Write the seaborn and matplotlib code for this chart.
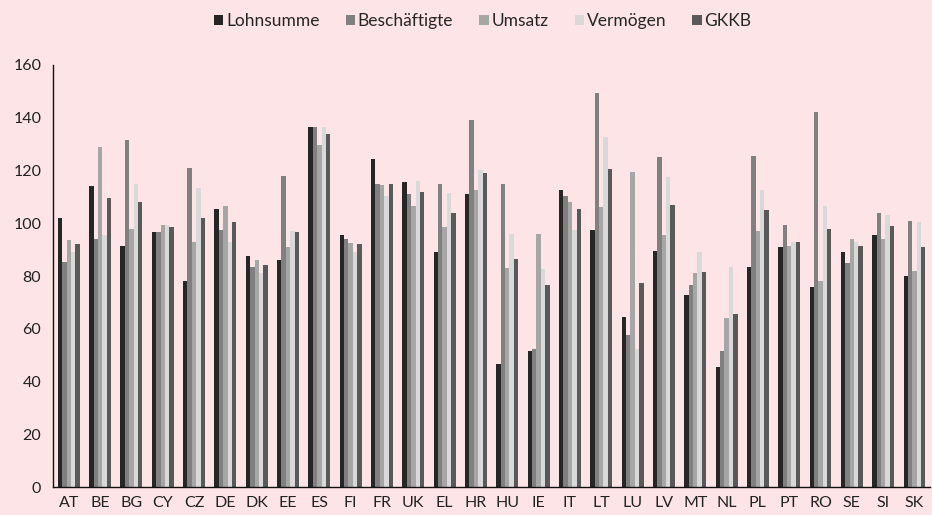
import pandas as pd
import matplotlib
matplotlib.use("Agg")
import matplotlib.pyplot as plt
import seaborn as sns
from matplotlib.patches import Patch

# Country codes and the five index series
countries = ["AT", "BE", "BG", "CY", "CZ", "DE", "DK", "EE", "ES", "FI", "FR", "UK", "EL", "HR",
             "HU", "IE", "IT", "LT", "LU", "LV", "MT", "NL", "PL", "PT", "RO", "SE", "SI", "SK"]
lohnsumme = [102, 114, 91.5, 96.5, 78, 105.5, 87.5, 86, 136.5, 95.5, 124.5, 115.5, 89, 111,
             46.5, 51.5, 112.5, 97.5, 64.5, 89.5, 73, 45.5, 83.5, 91, 76, 89, 95.5, 80]
beschaeftigte = [85.5, 94, 131.5, 96.5, 121, 97.5, 83.5, 118, 136.5, 94, 115, 111, 115, 139,
                 115, 52.5, 110.5, 149.5, 57.5, 125, 76.5, 51.5, 125.5, 99.5, 142, 85, 104, 101]
umsatz = [93.5, 129, 98, 99.5, 93, 106.5, 86, 91, 129.5, 92.5, 114.5, 106.5, 98.5, 112.5,
          83, 96, 108, 106, 119.5, 95.5, 81, 64, 97, 91.5, 78, 94, 94, 82]
vermoegen = [89, 95.5, 115, 99.5, 113.5, 93, 81, 97, 136.5, 89, 110.5, 116, 111.5, 120,
             96, 82.5, 97.5, 132.5, 52.5, 117.5, 89, 83.5, 112.5, 93, 106.5, 93, 103, 100.5]
gkkb = [92, 109.5, 108, 98.5, 102, 100.5, 84, 96.5, 134, 92, 115, 112, 104, 119,
        86.5, 76.5, 105.5, 120.5, 77.5, 107, 81.5, 65.5, 105, 93, 98, 91.5, 99, 91]

series_names = ["Lohnsumme", "Beschäftigte", "Umsatz", "Vermögen", "GKKB"]
colors = ["#262626", "#808080", "#a6a6a6", "#d9d9d9", "#595959"]

rows = []
for name, vals in zip(series_names, [lohnsumme, beschaeftigte, umsatz, vermoegen, gkkb]):
    for c, v in zip(countries, vals):
        rows.append({"Land": c, "Serie": name, "Wert": v})
df = pd.DataFrame(rows)

bg = "#fde4e6"
sns.set_theme(style="white")
plt.rcParams["font.family"] = ["Lato", "DejaVu Sans"]

fig = plt.figure(figsize=(9.32, 5.15), dpi=100, facecolor=bg)
ax = fig.add_axes([0.057, 0.054, 0.941, 0.82])
ax.set_facecolor(bg)

sns.barplot(data=df, x="Land", y="Wert", hue="Serie", hue_order=series_names,
            palette=colors, width=0.7, gap=0, linewidth=0, saturation=1,
            errorbar=None, legend=False, ax=ax)

ax.set_xlim(-0.5, len(countries) - 0.5)
ax.set_ylim(0, 160)
ax.set_yticks(range(0, 161, 20))
ax.set_xlabel("")
ax.set_ylabel("")

ax.set_xticks(range(len(countries)))
ax.set_xticklabels(countries)
ax.set_xticks([i - 0.5 for i in range(len(countries) + 1)], minor=True)
ax.tick_params(axis="x", which="major", length=0, labelsize=11.5, colors="#222222", pad=6)
ax.tick_params(axis="x", which="minor", length=5, width=0.8, color="#555555", direction="out")
ax.tick_params(axis="y", length=5, width=0.8, labelsize=11.5, direction="out",
               colors="#555555", labelcolor="#222222")

for side in ["top", "right"]:
    ax.spines[side].set_visible(False)
for side in ["left", "bottom"]:
    ax.spines[side].set_color("#111111")
    ax.spines[side].set_linewidth(1.0)

handles = [Patch(facecolor=c, edgecolor="none", label=n) for n, c in zip(series_names, colors)]
fig.legend(handles=handles, loc="upper center", bbox_to_anchor=(0.518, 1.005), ncol=5,
           frameon=False, fontsize=12.5, handlelength=0.55, handleheight=0.55,
           handletextpad=0.15, columnspacing=1.5)

fig.savefig("out.png", dpi=100, facecolor=bg)
